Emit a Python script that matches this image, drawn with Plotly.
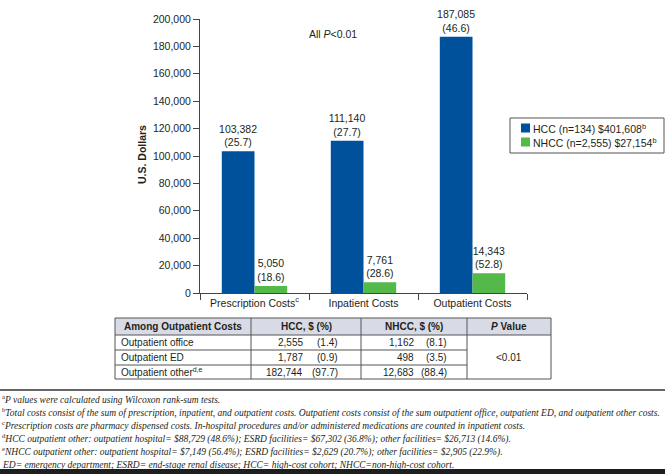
import plotly.graph_objects as go

W, H = 665, 474

# ---------------- data ----------------
categories = ["Prescription Costs<sup>c</sup>", "Inpatient Costs", "Outpatient Costs"]
hcc_values = [103382, 111140, 187085]
hcc_pct = [25.7, 27.7, 46.6]
nhcc_values = [5050, 7761, 14343]
nhcc_pct = [18.6, 28.6, 52.8]
series_names = ["HCC (n=134) $401,608<sup>b</sup>", "NHCC (n=2,555) $27,154<sup>b</sup>"]
y_ticks = [0, 20000, 40000, 60000, 80000, 100000, 120000, 140000, 160000, 180000, 200000]

table_header = ["Among Outpatient Costs", "HCC, $ (%)", "NHCC, $ (%)", "<i>P</i> Value"]
table_rows = ["Outpatient office", "Outpatient ED", "Outpatient other<sup>d,e</sup>"]
table_hcc_values = ["2,555", "1,787", "182,744"]
table_hcc_pct = ["(1.4)", "(0.9)", "(97.7)"]
table_nhcc_values = ["1,162", "498", "12,683"]
table_nhcc_pct = ["(8.1)", "(3.5)", "(88.4)"]
table_p_value = "<0.01"

footnotes = [
    "<sup>a</sup><i>P values were calculated using Wilcoxon rank-sum tests.</i>",
    "<sup>b</sup><i>Total costs consist of the sum of prescription, inpatient, and outpatient costs. Outpatient costs consist of the sum outpatient office, outpatient ED, and outpatient other costs.</i>",
    "<sup>c</sup><i>Prescription costs are pharmacy dispensed costs. In-hospital procedures and/or administered medications are counted in inpatient costs.</i>",
    "<sup>d</sup><i>HCC outpatient other: outpatient hospital= $88,729 (48.6%); ESRD facilities= $67,302 (36.8%); other facilities= $26,713 (14.6%).</i>",
    "<sup>e</sup><i>NHCC outpatient other: outpatient hospital= $7,149 (56.4%); ESRD facilities= $2,629 (20.7%); other facilities= $2,905 (22.9%).</i>",
    "<i>ED= emergency department; ESRD= end-stage renal disease; HCC= high-cost cohort; NHCC=non-high-cost cohort.</i>",
]

# ---------------- style ----------------
BLUE = "#00519c"
GREEN = "#55b94a"
TXT = "#231f20"
SANS = "Liberation Sans, Arial, sans-serif"
SERIF = "Liberation Serif, Times New Roman, serif"


def X(px):
    return px / W


def Y(py):
    return 1 - py / H


def label(v, p):
    return f"{v:,}<br>({p})"


fig = go.Figure()
fig.add_trace(go.Bar(
    x=categories, y=hcc_values, name=series_names[0], marker_color=BLUE,
    marker_line_width=0,
    text=[label(v, p) for v, p in zip(hcc_values, hcc_pct)],
    textposition="outside", constraintext="none",
    textfont=dict(family=SANS, size=10.5, color=TXT),
    cliponaxis=False, showlegend=False,
))
fig.add_trace(go.Bar(
    x=categories, y=nhcc_values, name=series_names[1], marker_color=GREEN,
    marker_line_width=0,
    text=[label(v, p) for v, p in zip(nhcc_values, nhcc_pct)],
    textposition="outside", constraintext="none",
    textfont=dict(family=SANS, size=10.5, color=TXT),
    cliponaxis=False, showlegend=False,
))

fig.update_layout(
    width=W, height=H,
    margin=dict(l=0, r=0, t=0, b=0),
    paper_bgcolor="white", plot_bgcolor="white",
    barmode="group", bargap=0.4, bargroupgap=0,
    font=dict(family=SANS, size=10.5, color=TXT),
    xaxis=dict(
        domain=[X(200), X(527)], anchor="y", automargin=False,
        showline=True, linecolor="#444", linewidth=1,
        ticks="outside", tickson="boundaries", ticklen=6, tickcolor="#444",
        showgrid=False, tickfont=dict(size=10.5, color=TXT),
    ),
    yaxis=dict(
        domain=[Y(293), Y(19)], range=[0, 200000], anchor="x", automargin=False,
        tickvals=y_ticks, tickformat=",",
        showline=True, linecolor="#444", linewidth=1,
        ticks="outside", ticklen=6, tickcolor="#444",
        showgrid=False, zeroline=False, tickfont=dict(size=10.5, color=TXT),
    ),
)

shapes = []
annotations = []


def ann(x, y, text, size=10.5, xanchor="center", family=SANS, **kw):
    annotations.append(dict(x=X(x), y=Y(y), xref="paper", yref="paper", text=text,
                            xanchor=xanchor, yanchor="middle", showarrow=False,
                            font=dict(family=family, size=size, color=TXT), **kw))


# y title
ann(142, 155, "<b>U.S. Dollars</b>", textangle=-90)
# All P<0.01
ann(333, 34, "All <i>P</i><0.01")

# legend (manual)
shapes.append(dict(type="rect", xref="paper", yref="paper", x0=X(510), x1=X(664), y0=Y(118), y1=Y(153),
                   line=dict(color="#555", width=1), fillcolor="white"))
for i, (name, col) in enumerate(zip(series_names, [BLUE, GREEN])):
    cy = 128 + 14 * i
    shapes.append(dict(type="rect", xref="paper", yref="paper", x0=X(521), x1=X(530), y0=Y(cy - 4.5), y1=Y(cy + 4.5),
                       line=dict(width=0), fillcolor=col))
    ann(531, cy, name, xanchor="left")

# ---------------- table ----------------
col_x = [115, 251, 361, 467, 551]
row_y = [318, 335, 350, 365, 379]
LC = "#555"
shapes.append(dict(type="rect", xref="paper", yref="paper", x0=X(col_x[0]), x1=X(col_x[-1]), y0=Y(row_y[0]), y1=Y(row_y[1]),
                   line=dict(width=0), fillcolor="#d8dbe5"))
for i, yy in enumerate(row_y):
    x1 = col_x[-1] if i in (0, 1, len(row_y) - 1) else col_x[3]
    shapes.append(dict(type="line", xref="paper", yref="paper", x0=X(col_x[0]), x1=X(x1), y0=Y(yy), y1=Y(yy),
                       line=dict(color=LC, width=1)))
for xx in col_x:
    shapes.append(dict(type="line", xref="paper", yref="paper", x0=X(xx), x1=X(xx), y0=Y(row_y[0]), y1=Y(row_y[-1]),
                       line=dict(color=LC, width=1)))
for j, htxt in enumerate(table_header):
    ann((col_x[j] + col_x[j + 1]) / 2, (row_y[0] + row_y[1]) / 2, f"<b>{htxt}</b>", size=10)
for i in range(len(table_rows)):
    cy = (row_y[i + 1] + row_y[i + 2]) / 2
    ann(119, cy, table_rows[i], size=10, xanchor="left")
    ann(305, cy, table_hcc_values[i], size=10, xanchor="right")
    ann(340, cy, table_hcc_pct[i], size=10, xanchor="right")
    ann(416, cy, table_nhcc_values[i], size=10, xanchor="right")
    ann(449, cy, table_nhcc_pct[i], size=10, xanchor="right")
ann((col_x[3] + col_x[4]) / 2, (row_y[1] + row_y[-1]) / 2, table_p_value, size=10)

# ---------------- footnotes ----------------
shapes.append(dict(type="line", xref="paper", yref="paper", x0=0, x1=1, y0=Y(390), y1=Y(390),
                   line=dict(color="#333", width=1.5)))
for i, fn in enumerate(footnotes):
    ann(0, 399 + 13.1 * i, fn, size=9.5, xanchor="left", family=SERIF)
shapes.append(dict(type="rect", xref="paper", yref="paper", x0=0, x1=1, y0=Y(474), y1=Y(469),
                   line=dict(width=0), fillcolor="#1e1e1e"))

fig.update_layout(shapes=shapes, annotations=annotations)
fig.write_html("out.html", config={"displayModeBar": False},
               post_script="document.body.style.margin='0';")
